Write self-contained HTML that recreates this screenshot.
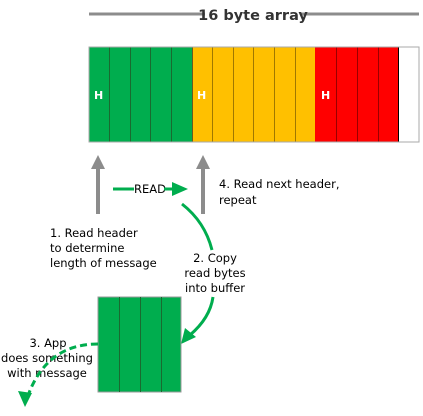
<!DOCTYPE html>
<html><head><style>
body{margin:0;background:#fff;}
svg{display:block;font-family:"DejaVu Sans","Liberation Sans",sans-serif;}
</style></head><body>
<svg width="423" height="416" viewBox="0 0 423 416">
<line x1="89" y1="14" x2="419" y2="14" stroke="#8c8c8c" stroke-width="3"/>
<rect x="205" y="4" width="96" height="20" fill="#fff"/>
<text x="253" y="20" font-size="14.5" font-weight="bold" fill="#333" text-anchor="middle">16 byte array</text>
<rect x="89" y="47" width="103" height="95" fill="#00ad4e"/>
<rect x="192" y="47" width="123" height="95" fill="#ffc000"/>
<rect x="315" y="47" width="83" height="95" fill="#ff0000"/>
<rect x="398" y="47" width="21" height="95" fill="#fff"/>
<g stroke-width="1">
<line x1="109.5" y1="47" x2="109.5" y2="142" stroke="#1a6a30"/>
<line x1="130.5" y1="47" x2="130.5" y2="142" stroke="#1a6a30"/>
<line x1="150.5" y1="47" x2="150.5" y2="142" stroke="#1a6a30"/>
<line x1="171.5" y1="47" x2="171.5" y2="142" stroke="#1a6a30"/>
<line x1="192.5" y1="47" x2="192.5" y2="142" stroke="#6a5a20"/>
<line x1="212.5" y1="47" x2="212.5" y2="142" stroke="#a07800"/>
<line x1="233.5" y1="47" x2="233.5" y2="142" stroke="#a07800"/>
<line x1="253.5" y1="47" x2="253.5" y2="142" stroke="#a07800"/>
<line x1="274.5" y1="47" x2="274.5" y2="142" stroke="#a07800"/>
<line x1="295.5" y1="47" x2="295.5" y2="142" stroke="#a07800"/>
<line x1="336.5" y1="47" x2="336.5" y2="142" stroke="#900"/>
<line x1="357.5" y1="47" x2="357.5" y2="142" stroke="#900"/>
<line x1="378.5" y1="47" x2="378.5" y2="142" stroke="#900"/>
<line x1="398.5" y1="47" x2="398.5" y2="142" stroke="#000"/>
</g>
<rect x="89" y="47" width="330" height="95" fill="none" stroke="#aaa" stroke-width="1"/>
<g font-size="11" font-weight="bold" fill="#fff">
<text x="94" y="99">H</text><text x="197" y="99">H</text><text x="321" y="99">H</text>
</g>
<g fill="#8c8c8c">
<rect x="96" y="166" width="4" height="48"/><polygon points="98,155 91,169 105,169"/>
<rect x="201" y="166" width="4" height="48"/><polygon points="203,155 196,169 210,169"/>
</g>
<line x1="113" y1="189" x2="134" y2="189" stroke="#00ad4e" stroke-width="3"/>
<text x="134" y="193" font-size="11.5" fill="#000">READ</text>
<line x1="164" y1="189" x2="173" y2="189" stroke="#00ad4e" stroke-width="3"/>
<polygon points="172,182 188,189 172,196" fill="#00ad4e"/>
<g font-size="11.5" fill="#000">
<text x="219" y="188">4. Read next header,</text>
<text x="219" y="204">repeat</text>
<text x="50" y="237">1. Read header</text>
<text x="50" y="252">to determine</text>
<text x="50" y="267">length of message</text>
<text x="215" y="262" text-anchor="middle">2. Copy</text>
<text x="215" y="277" text-anchor="middle">read bytes</text>
<text x="215" y="292" text-anchor="middle">into buffer</text>
<text x="48" y="347" text-anchor="middle">3. App</text>
<text x="47" y="362" text-anchor="middle">does something</text>
<text x="47" y="377" text-anchor="middle">with message</text>
</g>
<path d="M182,204 Q205,222 212,250" fill="none" stroke="#00ad4e" stroke-width="3"/>
<path d="M213,297 Q210,318 190,335" fill="none" stroke="#00ad4e" stroke-width="3"/>
<polygon points="181,344 185,328 196,337" fill="#00ad4e"/>
<rect x="98" y="297" width="83" height="95" fill="#00ad4e" stroke="#999" stroke-width="1"/>
<line x1="119.5" y1="297" x2="119.5" y2="392" stroke="#1a6a30"/>
<line x1="140.5" y1="297" x2="140.5" y2="392" stroke="#1a6a30"/>
<line x1="161.5" y1="297" x2="161.5" y2="392" stroke="#1a6a30"/>
<path d="M98,344 Q48,344 29,393" fill="none" stroke="#00ad4e" stroke-width="3" stroke-dasharray="7,4"/>
<polygon points="25,407 18,391 32,393" fill="#00ad4e"/>
</svg>
</body></html>
